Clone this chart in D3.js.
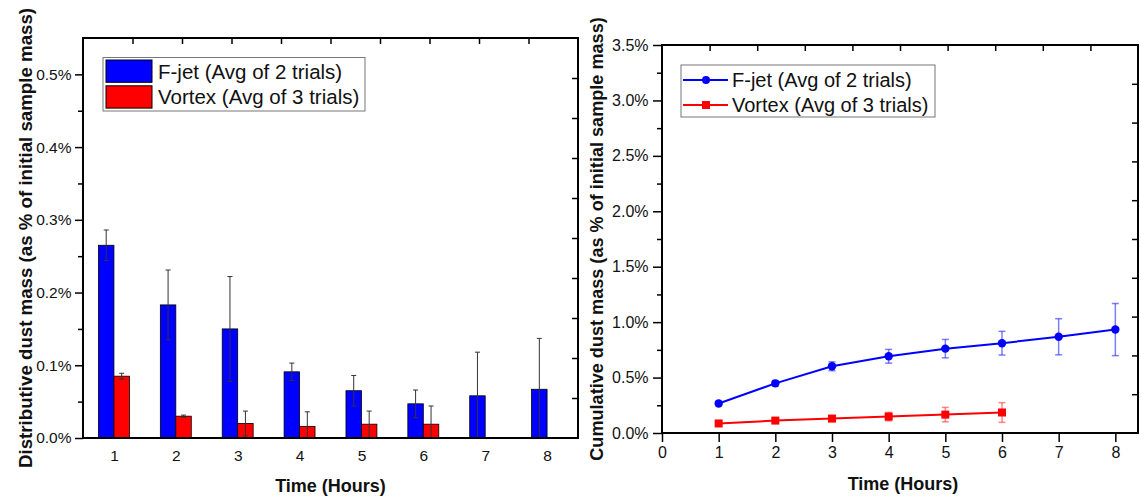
<!DOCTYPE html>
<html><head><meta charset="utf-8">
<script src="https://cdn.jsdelivr.net/npm/d3@7"></script>
<style>
body{margin:0;background:#fff}
svg text{font-family:"Liberation Sans",Arial,sans-serif;fill:#111}
</style>
</head><body>
<script>
// ---------- data ----------
const hours = [1, 2, 3, 4, 5, 6, 7, 8];
const fjetDist      = [0.265, 0.183, 0.150, 0.091, 0.065, 0.047, 0.058, 0.067];
const fjetDistErr   = [0.021, 0.048, 0.072, 0.012, 0.021, 0.019, 0.060, 0.070];
const vortexDist    = [0.085, 0.030, 0.020, 0.016, 0.019, 0.019, null, null];
const vortexDistErr = [0.004, 0.0015, 0.017, 0.020, 0.018, 0.025, null, null];
const fjetCum       = [0.266, 0.448, 0.602, 0.692, 0.761, 0.810, 0.868, 0.933];
const fjetCumErr    = [0.020, 0.025, 0.040, 0.062, 0.083, 0.107, 0.163, 0.235];
const vortexHours   = [1, 2, 3, 4, 5, 6];
const vortexCum     = [0.086, 0.112, 0.130, 0.148, 0.166, 0.185];
const vortexCumErr  = [0.010, 0.020, 0.020, 0.038, 0.065, 0.089];
const seriesNames = ["F-jet (Avg of 2 trials)", "Vortex (Avg of 3 trials)"];
const leftYTicks  = [0, 0.1, 0.2, 0.3, 0.4, 0.5];
const leftYMinor  = [0.05, 0.15, 0.25, 0.35, 0.45];
const rightYTicks = [0, 0.5, 1.0, 1.5, 2.0, 2.5, 3.0, 3.5];
const rightYMinor = [0.25, 0.75, 1.25, 1.75, 2.25, 2.75, 3.25];
const rightXTicks = [0, 1, 2, 3, 4, 5, 6, 7, 8];
const xTitle = "Time (Hours)";
const leftYTitle  = "Distributive dust mass (as % of initial sample mass)";
const rightYTitle = "Cumulative dust mass (as % of initial sample mass)";

const BLUE = "#0000ff", RED = "#ff0000";
const pct = d => d.toFixed(1) + "%";

const svg = d3.select("body").append("svg").attr("width", 1141).attr("height", 498);

function frameTicks(g, P, tlen) {
  const auxX = d3.scaleLinear().domain([0, 10]).range([P.x0, P.x1]);
  const auxY = d3.scaleLinear().domain([0, 10]).range([P.y0, P.y1]);
  const inner = d3.range(1, 10);
  g.append("g").attr("transform", `translate(0,${P.y1})`)
    .call(d3.axisBottom(auxX).tickValues(inner).tickSize(tlen).tickFormat(""))
    .call(s => s.select(".domain").remove());
  g.append("g").attr("transform", `translate(${P.x1},0)`)
    .call(d3.axisLeft(auxY).tickValues(inner).tickSize(tlen).tickFormat(""))
    .call(s => s.select(".domain").remove());
}
function styleTicks(g) {
  g.selectAll(".tick line").attr("stroke", "#000").attr("stroke-width", 1.5);
}
function styleLabels(g, size) {
  g.selectAll(".tick text").style("font-size", size + "px")
    .style("font-family", '"Liberation Sans", Arial, sans-serif').style("fill", "#111");
}
function errBar(g, x, yTop, yBot, cap, color, w) {
  g.append("line").attr("x1", x).attr("x2", x).attr("y1", yTop).attr("y2", yBot)
    .attr("stroke", color).attr("stroke-width", w);
  [yTop, yBot].forEach(y => g.append("line").attr("x1", x - cap).attr("x2", x + cap)
    .attr("y1", y).attr("y2", y).attr("stroke", color).attr("stroke-width", w));
}

// ---------- left panel ----------
{
  const P = {x0: 83, x1: 578, y0: 438, y1: 38};
  const x = d3.scaleLinear().domain([0.5, 8.5]).range([P.x0, P.x1]);
  const y = d3.scaleLinear().domain([0, 0.55]).range([P.y0, P.y1]);
  const bw = 0.25;
  const g = svg.append("g");
  g.append("clipPath").attr("id", "clipL").append("rect")
    .attr("x", P.x0).attr("y", P.y1).attr("width", P.x1 - P.x0).attr("height", P.y0 - P.y1);

  const bars = g.append("g");
  hours.forEach((h, i) => {
    bars.append("rect").attr("x", x(h - bw)).attr("width", x(h) - x(h - bw))
      .attr("y", y(fjetDist[i])).attr("height", y(0) - y(fjetDist[i]))
      .attr("fill", BLUE).attr("stroke", "#000").attr("stroke-width", 0.8);
    if (vortexDist[i] != null) {
      bars.append("rect").attr("x", x(h)).attr("width", x(h + bw) - x(h))
        .attr("y", y(vortexDist[i])).attr("height", y(0) - y(vortexDist[i]))
        .attr("fill", RED).attr("stroke", "#000").attr("stroke-width", 0.8);
    }
  });
  const eg = g.append("g").attr("clip-path", "url(#clipL)");
  hours.forEach((h, i) => {
    errBar(eg, x(h - bw / 2), y(fjetDist[i] + fjetDistErr[i]), y(fjetDist[i] - fjetDistErr[i]), 2.5, "#333", 1);
    if (vortexDist[i] != null)
      errBar(eg, x(h + bw / 2), y(vortexDist[i] + vortexDistErr[i]), y(vortexDist[i] - vortexDistErr[i]), 2.5, "#333", 1);
  });

  g.append("g").attr("transform", `translate(0,${P.y0})`)
    .call(d3.axisBottom(x).tickValues(hours).tickSize(0).tickPadding(12))
    .call(s => s.select(".domain").remove())
    .call(s => styleLabels(s, 15.5));
  g.append("g").attr("transform", `translate(${P.x0},0)`)
    .call(d3.axisLeft(y).tickValues(leftYTicks).tickFormat(pct).tickSize(8).tickPadding(3.5))
    .call(s => s.select(".domain").remove())
    .call(styleTicks)
    .call(s => styleLabels(s, 15.5));
  g.append("g").attr("transform", `translate(${P.x0},0)`)
    .call(d3.axisLeft(y).tickValues(leftYMinor).tickFormat("").tickSize(5))
    .call(s => s.select(".domain").remove()).call(styleTicks);
  const ft = g.append("g"); frameTicks(ft, P, 6); styleTicks(ft);
  g.append("rect").attr("x", P.x0).attr("y", P.y1).attr("width", P.x1 - P.x0).attr("height", P.y0 - P.y1)
    .attr("fill", "none").attr("stroke", "#000").attr("stroke-width", 2);

  // legend
  const lg = g.append("g");
  lg.append("rect").attr("x", 103).attr("y", 57.5).attr("width", 262).attr("height", 53.5)
    .attr("fill", "#fff").attr("stroke", "#777").attr("stroke-width", 1);
  [BLUE, RED].forEach((c, k) => {
    lg.append("rect").attr("x", 106).attr("y", 60 + k * 25.8).attr("width", 46).attr("height", 22.3)
      .attr("fill", c).attr("stroke", "#000").attr("stroke-width", 1);
    lg.append("text").attr("x", 158).attr("y", 71.5 + k * 25.6).attr("dy", "0.36em")
      .attr("font-size", 20.5).text(seriesNames[k]);
  });

  g.append("text").attr("x", (P.x0 + P.x1) / 2).attr("y", 491.5).attr("text-anchor", "middle")
    .attr("font-size", 18).attr("font-weight", "bold").text(xTitle);
  g.append("text").attr("transform", `translate(32,${(P.y0 + P.y1) / 2}) rotate(-90)`)
    .attr("text-anchor", "middle").attr("font-size", 18.7).attr("font-weight", "bold").text(leftYTitle);
}

// ---------- right panel ----------
{
  const P = {x0: 662, x1: 1138, y0: 433, y1: 45};
  const x = d3.scaleLinear().domain([0, 8.4]).range([P.x0, P.x1]);
  const y = d3.scaleLinear().domain([0, 3.5]).range([P.y0, P.y1]);
  const g = svg.append("g");

  const eg = g.append("g");
  hours.forEach((h, i) => errBar(eg, x(h), y(fjetCum[i] + fjetCumErr[i]), y(fjetCum[i] - fjetCumErr[i]), 3.5, "rgba(40,40,255,0.6)", 1.5));
  vortexHours.forEach((h, i) => errBar(eg, x(h), y(vortexCum[i] + vortexCumErr[i]), y(vortexCum[i] - vortexCumErr[i]), 3.5, "rgba(255,40,40,0.55)", 1.5));

  const line = d3.line().x(d => x(d[0])).y(d => y(d[1]));
  g.append("path").datum(hours.map((h, i) => [h, fjetCum[i]])).attr("d", line)
    .attr("fill", "none").attr("stroke", BLUE).attr("stroke-width", 2);
  g.append("path").datum(vortexHours.map((h, i) => [h, vortexCum[i]])).attr("d", line)
    .attr("fill", "none").attr("stroke", RED).attr("stroke-width", 2);
  g.selectAll(".dotB").data(hours).join("circle").attr("cx", d => x(d))
    .attr("cy", (d, i) => y(fjetCum[i])).attr("r", 4.2).attr("fill", BLUE);
  g.selectAll(".dotR").data(vortexHours).join("rect").attr("x", d => x(d) - 4)
    .attr("y", (d, i) => y(vortexCum[i]) - 4).attr("width", 8).attr("height", 8).attr("fill", RED);

  g.append("g").attr("transform", `translate(0,${P.y0})`)
    .call(d3.axisBottom(x).tickValues(rightXTicks).tickSize(9).tickPadding(4.5))
    .call(s => s.select(".domain").remove()).call(styleTicks)
    .call(s => styleLabels(s, 16));
  g.append("g").attr("transform", `translate(${P.x0},0)`)
    .call(d3.axisLeft(y).tickValues(rightYTicks).tickFormat(pct).tickSize(9).tickPadding(4.5))
    .call(s => s.select(".domain").remove()).call(styleTicks)
    .call(s => styleLabels(s, 16));
  g.append("g").attr("transform", `translate(${P.x0},0)`)
    .call(d3.axisLeft(y).tickValues(rightYMinor).tickFormat("").tickSize(5))
    .call(s => s.select(".domain").remove()).call(styleTicks);
  const ft = g.append("g"); frameTicks(ft, P, 6); styleTicks(ft);
  g.append("rect").attr("x", P.x0).attr("y", P.y1).attr("width", P.x1 - P.x0).attr("height", P.y0 - P.y1)
    .attr("fill", "none").attr("stroke", "#000").attr("stroke-width", 2);

  // legend
  const lg = g.append("g");
  lg.append("rect").attr("x", 681).attr("y", 65).attr("width", 254).attr("height", 52)
    .attr("fill", "#fff").attr("stroke", "#777").attr("stroke-width", 1);
  [BLUE, RED].forEach((c, k) => {
    const yy = 80 + k * 25;
    lg.append("line").attr("x1", 683).attr("x2", 728).attr("y1", yy).attr("y2", yy)
      .attr("stroke", c).attr("stroke-width", 2);
    if (k === 0) lg.append("circle").attr("cx", 706).attr("cy", yy).attr("r", 4).attr("fill", c);
    else lg.append("rect").attr("x", 702).attr("y", yy - 4).attr("width", 8).attr("height", 8).attr("fill", c);
    lg.append("text").attr("x", 732).attr("y", yy).attr("dy", "0.36em")
      .attr("font-size", 20).text(seriesNames[k]);
  });

  g.append("text").attr("x", (P.x0 + P.x1) / 2 + 3).attr("y", 490).attr("text-anchor", "middle")
    .attr("font-size", 18).attr("font-weight", "bold").text(xTitle);
  g.append("text").attr("transform", `translate(603,${(P.y0 + P.y1) / 2}) rotate(-90)`)
    .attr("text-anchor", "middle").attr("font-size", 18.1).attr("font-weight", "bold").text(rightYTitle);
}
</script>
</body></html>
